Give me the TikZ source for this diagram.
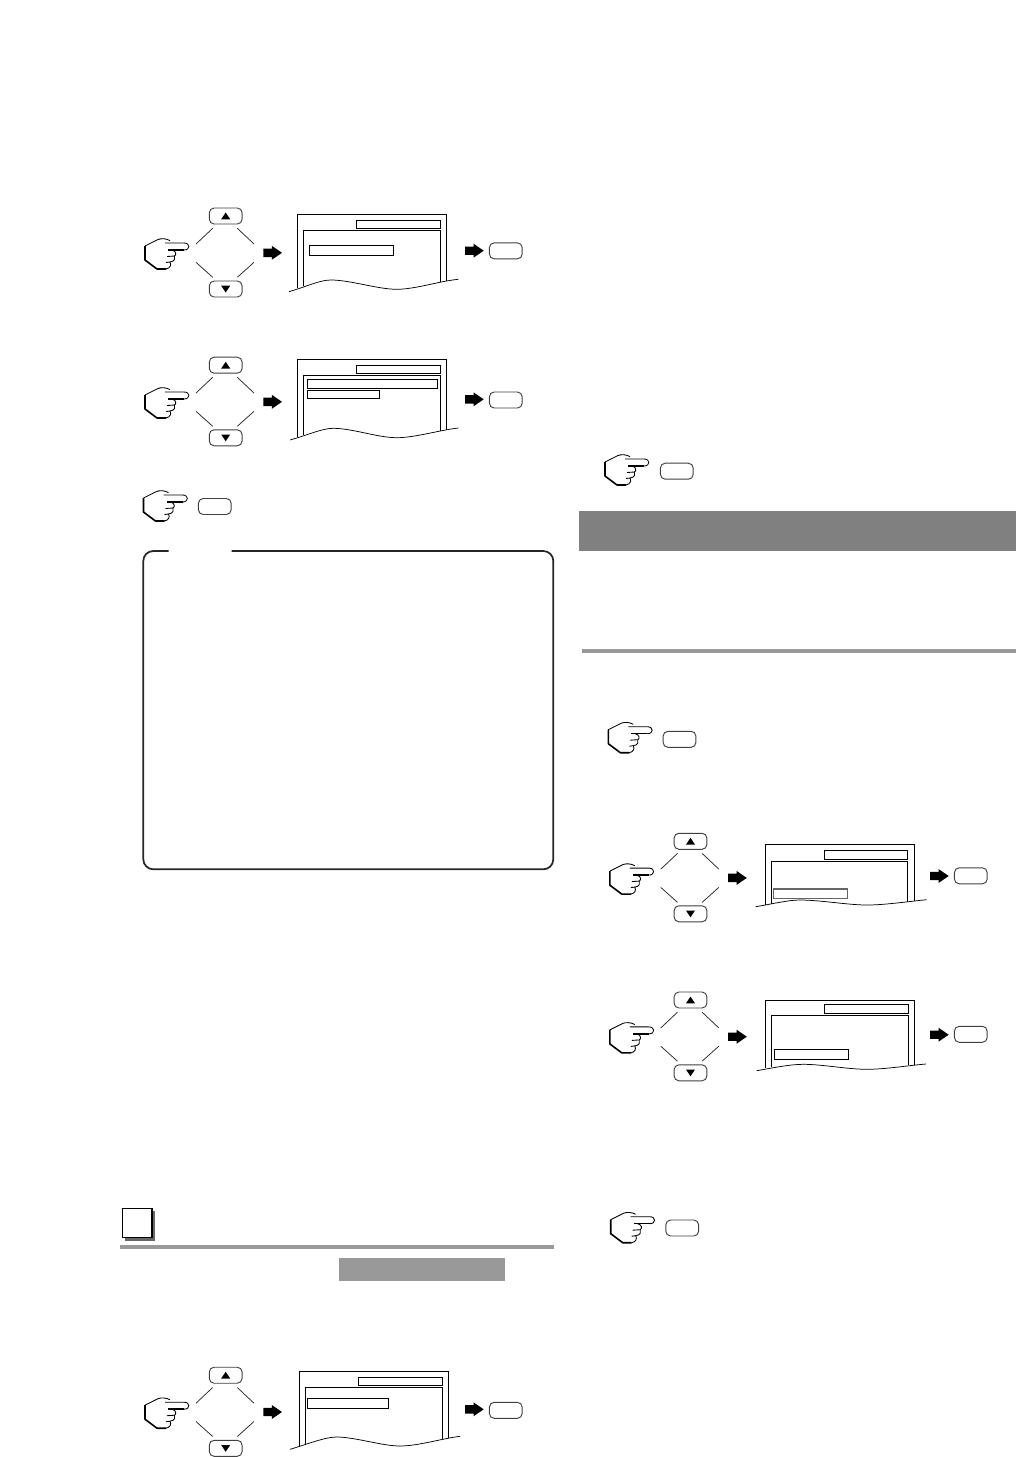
\documentclass[tikz,border=0pt]{standalone}
\usepackage{amssymb}
\usepackage{amsmath}
\usepackage{tikz}

\begin{document}
\begin{tikzpicture}[x=.75pt,y=-.75pt,
  scr/.style={line width=.8pt,black},
  keyline/.style={line width=.55pt,black!85},
  notch/.style={line width=1.3pt,black!85},
  btn/.style={draw=black!75,line width=.7pt,rounded corners=3.6pt,minimum width=24.6pt,minimum height=12pt,inner sep=0pt},
  pics/hand/.style={code={
    \draw[line width=.65pt,line join=round] (25,2.6) .. controls (21,.3) and (16,.3) .. (13,1.5) -- (0,8);
    \draw[line width=1.2pt,line join=round] (0,8) -- (0,22) -- (12,31) -- (21,31);
    \draw[line width=.65pt] (21,31) .. controls (25.5,30) and (26.5,27) .. (25,24) -- (21,24.5);
    \draw[line width=.65pt] (25,24) .. controls (30,23.5) and (30.5,20) .. (29.5,18) -- (22,18.5);
    \draw[line width=.65pt] (29.5,18) .. controls (31.5,17) and (31.5,13) .. (27,12);
    \draw[line width=.65pt] (20,5) -- (39,5) .. controls (45.5,5) and (45.5,12) .. (39,12);
    \draw[line width=1.1pt] (39,12) -- (23,12);
  }},
  pics/blockarrow/.style={code={
    \fill (0,-4.2) -- (8.5,-4.2) -- (8.5,-7) -- (18.7,0) -- (8.5,7) -- (8.5,4.2) -- (0,4.2) -- cycle;
  }},
  pics/keypad/.style n args={2}{code={
    \pic at (-80.7,-14.5) {hand};
    \node[btn] (-up) at (0,#1) {};
    \node[btn] (-dn) at (0,#2) {};
    \fill (-4.5,#1+3.3) -- (4.5,#1+3.3) -- (0,#1-3.5) -- cycle;
    \fill (-4.5,#2-3.3) -- (4.5,#2-3.3) -- (0,#2+3.5) -- cycle;
    \draw[keyline] (-29.7,-8.5) -- (-13,-24.2);
    \draw[keyline] (11.6,-24.2) -- (28.3,-8.5);
    \draw[keyline] (-29.7,9.8) -- (-13,24.8);
    \draw[keyline] (11.6,24.8) -- (28.3,9.8);
    \pic at (37.6,.3) {blockarrow};
  }}]
\path[fill=white] (0,0) rectangle (1016,1457);
\useasboundingbox (0,0) rectangle (1016,1457);

% first column
\pic (kpa) at (225.7,252.5) {keypad={-36.5}{36.5}};
\draw[scr] (297.3,288) -- (297.3,214.3) -- (446.3,214.3) -- (446.3,280.5);
\draw[scr] (303.7,286) -- (303.7,230.3) -- (440.7,230.3) -- (440.7,282);
\draw[scr] (356.7,220.7) rectangle (440.7,228.7);
\draw[scr] (309.3,245.7) rectangle (393.7,255.7);
\draw[scr,line width=.55pt] (289,291.7) .. controls (308,286) and (320,280) .. (331,280) .. controls (350,280) and (378,289.3) .. (396.7,289.3) .. controls (415,289.3) and (440,281) .. (458.3,279.3);
\pic at (465,250.7) {blockarrow};
\node[btn] (oka) at (505.8,250.8) {};

\pic (kpb) at (225.7,401.5) {keypad={-36.3}{36.3}};
\draw[scr] (297.3,436.5) -- (297.3,359.3) -- (446.3,359.3) -- (446.3,429.5);
\draw[scr] (303.7,435) -- (303.7,375.3) -- (440.7,375.3) -- (440.7,430.5);
\draw[scr] (356.7,365.7) rectangle (440.7,373.7);
\draw[scr] (307.3,379.3) rectangle (437.7,388.7);
\draw[scr] (307.3,390.3) rectangle (379.7,398.3);
\draw[scr,line width=.55pt] (290,440) .. controls (308,435) and (322,428.3) .. (333.3,428.3) .. controls (352,428.3) and (378,437.7) .. (396.7,437.7) .. controls (415,437.7) and (440,430) .. (458.3,428);
\pic at (465,399.3) {blockarrow};
\node[btn] (okb) at (505.8,400) {};

\pic at (143.5,490) {hand};
\node[btn] (okc) at (214.8,506.5) {};

% note frame
\draw[notch,rounded corners=7.5pt] (231.7,551) -- (553.3,551) -- (553.3,869.3) -- (143.3,869.3) -- (143.3,551) -- (168.7,551);

% heading
\fill[black!60] (125.3,1211.3) rectangle (155,1241);
\draw[fill=white,line width=1pt] (122.3,1208.3) rectangle (152,1237.7);
\fill[black!40] (120,1245) rectangle (554,1249);
\fill[black!40] (339,1258) rectangle (505,1281);

\pic (kpc) at (225.7,1411.7) {keypad={-36.5}{36.6}};
\draw[scr] (299.3,1446) -- (299.3,1371.3) -- (448.3,1371.3) -- (448.3,1437.5);
\draw[scr] (305.7,1444.5) -- (305.7,1387.7) -- (442.7,1387.7) -- (442.7,1438.5);
\draw[scr] (358.7,1377.7) rectangle (442.7,1385.7);
\draw[scr] (307.3,1398.3) rectangle (388.7,1408.3);
\draw[scr,line width=.55pt] (290,1449.3) .. controls (308,1444) and (325,1437) .. (336.7,1437) .. controls (355,1437) and (382,1446) .. (400,1446) .. controls (418,1446) and (442,1438.5) .. (460,1436.3);
\pic at (465,1409.3) {blockarrow};
\node[btn] (okd) at (505.8,1410.3) {};

% second column
\pic at (605,454) {hand};
\node[btn] (oke) at (676.8,471.2) {};
\fill[black!50] (579,511) rectangle (1016,551);
\fill[black!40] (582,649) rectangle (1016,653);
\pic at (608.3,721.7) {hand};
\node[btn] (okf) at (679.5,739.3) {};

\pic (kpd) at (690.5,877.6) {keypad={-36.3}{36.2}};
\draw[scr] (765.3,904.5) -- (765.3,844.3) -- (914.3,844.3) -- (914.3,900.5);
\draw[scr] (771.3,903.5) -- (771.3,861.3) -- (907.3,861.3) -- (907.3,902);
\draw[scr] (824.3,850.3) rectangle (907.3,859.3);
\draw[scr,black!60] (773.3,889) rectangle (847.7,898.7);
\draw[scr,line width=.55pt] (755.7,906.7) .. controls (772,904) and (788,900) .. (800,900) .. controls (820,900) and (848,905) .. (866.7,905) .. controls (885,905) and (908,901.5) .. (926.7,899.7);
\pic at (930,876) {blockarrow};
\node[btn] (okg) at (970.8,875.8) {};

\pic (kpe) at (690.5,1036.4) {keypad={-36.4}{36.4}};
\draw[scr] (765.3,1068) -- (765.3,1000.3) -- (914.3,1000.3) -- (914.3,1064.7);
\draw[scr] (771.3,1067) -- (771.3,1015.3) -- (908.7,1015.3) -- (908.7,1065.3);
\draw[scr] (824.3,1004.7) rectangle (908.7,1013.7);
\draw[scr] (774.3,1049.3) rectangle (848.7,1059.7);
\draw[scr,line width=.55pt] (756.7,1070.7) .. controls (772,1068) and (790,1064.3) .. (803.3,1064.3) .. controls (822,1064.3) and (848,1069.3) .. (866.7,1069.3) .. controls (885,1069.3) and (908,1065.5) .. (926,1064);
\pic at (930,1034.7) {blockarrow};
\node[btn] (okh) at (970.8,1034.3) {};

\pic at (610.7,1211.7) {hand};
\node[btn] (oki) at (682.2,1228) {};
\end{tikzpicture}
\end{document}
